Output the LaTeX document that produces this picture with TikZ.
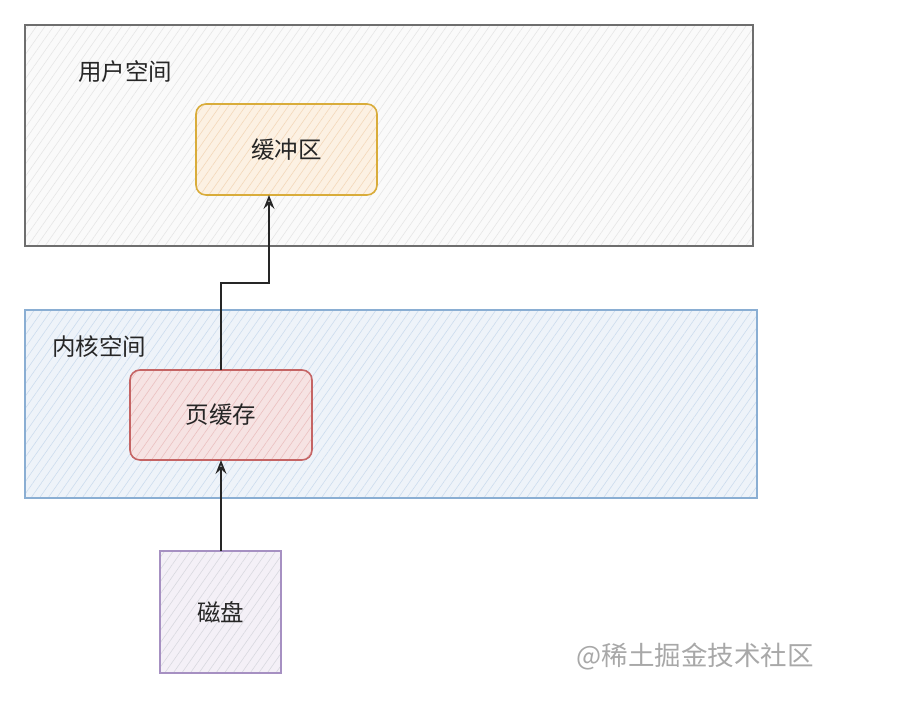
\documentclass[tikz,border=0pt]{standalone}
\usepackage{fontspec}
\newfontfamily\cjk{Noto Sans CJK SC}
\usetikzlibrary{patterns.meta,arrows.meta}
\definecolor{usrline}{HTML}{6E6E6E}
\definecolor{usrfill}{HTML}{FAFAFA}
\definecolor{usrhatch}{HTML}{E6E6E6}
\definecolor{kerline}{HTML}{8AAED3}
\definecolor{kerfill}{HTML}{EEF3F9}
\definecolor{kerhatch}{HTML}{CCDCEE}
\definecolor{bufline}{HTML}{D9AC3A}
\definecolor{buffill}{HTML}{FCF1E3}
\definecolor{bufhatch}{HTML}{F3D8BA}
\definecolor{pgline}{HTML}{C56464}
\definecolor{pgfill}{HTML}{F6E3E3}
\definecolor{pghatch}{HTML}{EBC0C0}
\definecolor{dkline}{HTML}{A690C2}
\definecolor{dkfill}{HTML}{F4F0F7}
\definecolor{dkhatch}{HTML}{D8D8DF}
\definecolor{wm}{HTML}{A8A8A8}
\tikzset{
  region/.style={draw=none, fill=#1fill},
  hatchit/.style={pattern={Lines[angle=55,distance=7pt,line width=0.6pt]}, pattern color=#1hatch},
  lbl/.style={font=\cjk\fontsize{23.5}{27}\selectfont, text=black!85, inner sep=0pt},
  conn/.style={draw=black!85, line width=1.7pt, -{Stealth[length=14pt,width=11pt,open,inset=5pt]}},
}
\begin{document}
\begin{tikzpicture}[x=1pt,y=-1pt]
\useasboundingbox (0,0) rectangle (918,713);
\fill[white] (0,0) rectangle (918,713);
% user space
\path[region=usr] (25,25) rectangle (753,246);
\path[hatchit=usr] (25,25) rectangle (753,246);
\draw[usrline, line width=1.4pt] (25,25) rectangle (753,246);
\node[lbl, anchor=west] (ulab) at (78,72) {用户空间};
% kernel space
\path[region=ker] (25,310) rectangle (757,498);
\path[hatchit=ker] (25,310) rectangle (757,498);
\draw[kerline, line width=1.4pt] (25,310) rectangle (757,498);
\node[lbl, anchor=west] (klab) at (52,347) {内核空间};
% buffer
\path[region=buf, rounded corners=10pt] (196,104) rectangle (377,195);
\path[hatchit=buf, rounded corners=10pt] (196,104) rectangle (377,195);
\draw[bufline, line width=1.6pt, rounded corners=10pt] (196,104) rectangle (377,195);
\node[lbl] (buf) at (286.5,149.5) {缓冲区};
\coordinate (bufbot) at (269,195);
% page cache
\path[region=pg, rounded corners=10pt] (130,370) rectangle (312,460);
\path[hatchit=pg, rounded corners=10pt] (130,370) rectangle (312,460);
\draw[pgline, line width=1.6pt, rounded corners=10pt] (130,370) rectangle (312,460);
\node[lbl] (pg) at (221,415) {页缓存};
\coordinate (pgtop) at (221,370);
\coordinate (pgbot) at (221,460);
% disk
\path[region=dk] (160,551) rectangle (281,673);
\path[hatchit=dk] (160,551) rectangle (281,673);
\draw[dkline, line width=1.6pt] (160,551) rectangle (281,673);
\node[lbl] (dk) at (220.5,612) {磁盘};
\coordinate (dktop) at (221,551);
% connectors
\draw[conn] (dktop) -- (pgbot);
\draw[conn] (pgtop) -- (221,283) -- (269,283) -- (bufbot);
% watermark
\node[font=\cjk\fontsize{26.5}{30}\selectfont, text=wm, inner sep=0pt] (wmk) at (695,657) {@稀土掘金技术社区};
\end{tikzpicture}
\end{document}
